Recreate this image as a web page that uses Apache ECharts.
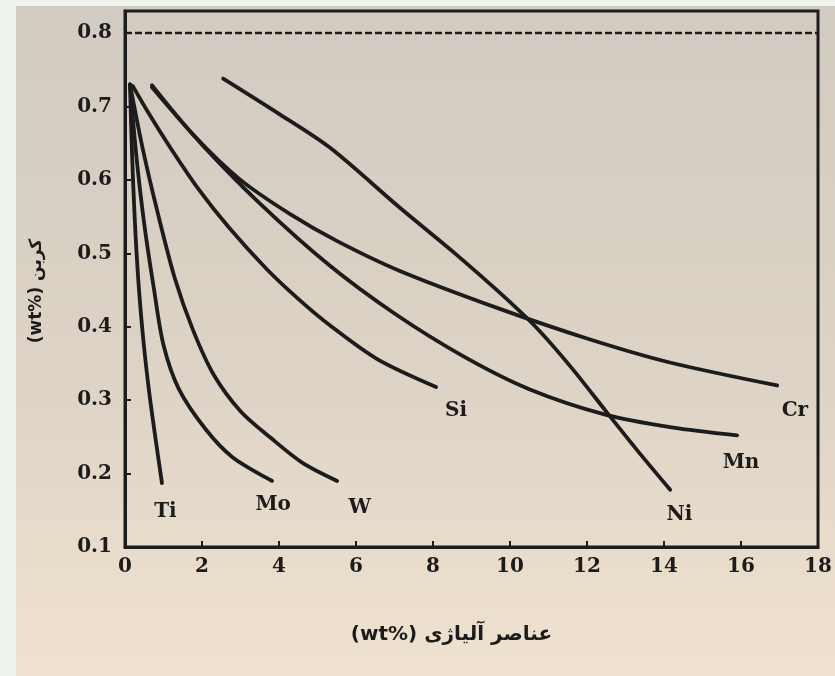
<!DOCTYPE html>
<html>
<head>
<meta charset="utf-8">
<script src="https://cdn.jsdelivr.net/npm/echarts@6/dist/echarts.min.js"></script>
<style>
  html, body { margin: 0; padding: 0; background: #eef3ec; }
  #chart { position: absolute; left: 16px; top: 6px; width: 819px; height: 670px; }
</style>
</head>
<body>
<div id="chart"></div>
<script>
// curves: [alloy wt%, carbon wt%]
var tiData = [[0.13, 0.73], [0.18, 0.64], [0.25, 0.55], [0.35, 0.46], [0.48, 0.38], [0.63, 0.31], [0.8, 0.245], [0.96, 0.187]];
var moData = [[0.13, 0.73], [0.3, 0.63], [0.5, 0.54], [0.75, 0.452], [1.0, 0.375], [1.4, 0.315], [2.1, 0.26], [2.8, 0.222], [3.82, 0.19]];
var wData = [[0.13, 0.73], [0.45, 0.645], [0.85, 0.555], [1.3, 0.465], [1.77, 0.395], [2.3, 0.335], [3.0, 0.285], [3.8, 0.248], [4.6, 0.215], [5.51, 0.19]];
var siData = [[0.2, 0.728], [0.6, 0.692], [1.2, 0.642], [1.9, 0.588], [2.7, 0.535], [3.69, 0.478], [4.5, 0.438], [5.32, 0.402], [6.55, 0.356], [8.08, 0.318]];
var mnData = [[0.7, 0.726], [2.0, 0.648], [3.5, 0.568], [5.3, 0.484], [7.0, 0.418], [8.78, 0.36], [10.5, 0.315], [12.5, 0.28], [14.2, 0.263], [15.9, 0.252]];
var crData = [[0.7, 0.729], [1.8, 0.66], [3.0, 0.6], [4.3, 0.553], [5.5, 0.517], [7.14, 0.476], [9.7, 0.425], [12.0, 0.384], [14.1, 0.352], [16.94, 0.32]];
var niData = [[2.55, 0.738], [4.0, 0.69], [5.32, 0.644], [7.14, 0.562], [8.5, 0.503], [9.74, 0.446], [10.7, 0.398], [11.6, 0.344], [12.52, 0.283], [13.3, 0.232], [14.16, 0.178]];
var eutectoidLine = [[0, 0.8], [18, 0.8]];

// curve names and where their labels sit
var labelNames = ["Ti", "Mo", "W", "Si", "Mn", "Cr", "Ni"];
var labelPos = [[1.05, 0.148], [3.85, 0.157], [6.1, 0.153], [8.6, 0.286], [16.0, 0.215], [17.4, 0.286], [14.4, 0.144]];

var xName = "(wt%) عناصر آلیاژی";
var yName = "(wt%) کربن";

var chart = echarts.init(document.getElementById("chart"));
var ink = "#1c1c1c";
var serif = "'DejaVu Serif', 'Liberation Serif', serif";

function curve(name, data) {
  return {
    name: name,
    type: "line",
    data: data,
    smooth: 0.3,
    showSymbol: false,
    lineStyle: { color: ink, width: 3.8, cap: "round" },
  };
}

var option = {
  backgroundColor: {
    type: "linear", x: 0, y: 0, x2: 0, y2: 1,
    colorStops: [
      { offset: 0, color: "#d2cbc1" },
      { offset: 0.55, color: "#ddd3c6" },
      { offset: 1, color: "#f0e2cf" },
    ],
  },
  animation: false,
  grid: {
    left: 109, right: 17, top: 5, bottom: 129,
    show: true, borderColor: ink, borderWidth: 3,
  },
  xAxis: {
    type: "value", min: 0, max: 18, interval: 2,
    name: xName, nameLocation: "middle", nameGap: 78,
    nameTextStyle: { color: ink, fontSize: 20, fontWeight: "bold", fontFamily: "'DejaVu Sans', sans-serif", padding: [0, 40, 0, 0] },
    axisLine: { lineStyle: { color: ink, width: 3 } },
    axisTick: { inside: true, length: 6, lineStyle: { color: ink, width: 2 } },
    axisLabel: { color: ink, fontSize: 20, fontWeight: "bold", fontFamily: serif, margin: 10 },
    splitLine: { show: false },
  },
  yAxis: {
    type: "value", min: 0.1, max: 0.83, interval: 0.1,
    name: yName, nameLocation: "middle", nameGap: 80, nameRotate: 90,
    nameTextStyle: { color: ink, fontSize: 17, fontWeight: "bold", fontFamily: "'DejaVu Sans', sans-serif", padding: [0, 24, 0, 0] },
    axisLine: { lineStyle: { color: ink, width: 3 } },
    axisTick: { inside: true, length: 6, lineStyle: { color: ink, width: 2 } },
    axisLabel: {
      color: ink, fontSize: 20, fontWeight: "bold", fontFamily: serif, margin: 13,
      showMaxLabel: false,
      formatter: function (v) { return v.toFixed(1); },
    },
    splitLine: { show: false },
  },
  series: [
    {
      name: "0.8",
      type: "line",
      data: eutectoidLine,
      showSymbol: false,
      lineStyle: { color: ink, width: 2.5, type: [7, 3] },
    },
    curve("Ti", tiData),
    curve("Mo", moData),
    curve("W", wData),
    curve("Si", siData),
    curve("Mn", mnData),
    curve("Cr", crData),
    curve("Ni", niData),
    {
      name: "labels",
      type: "scatter",
      symbolSize: 0,
      itemStyle: { opacity: 1 },
      data: labelPos.map(function (p, i) { return { name: labelNames[i], value: p }; }),
      label: {
        show: true,
        position: "inside",
        formatter: "{b}",
        color: ink,
        fontSize: 20,
        fontWeight: "bold",
        fontFamily: serif,
      },
    },
  ],
};

chart.setOption(option);
</script>
</body>
</html>
